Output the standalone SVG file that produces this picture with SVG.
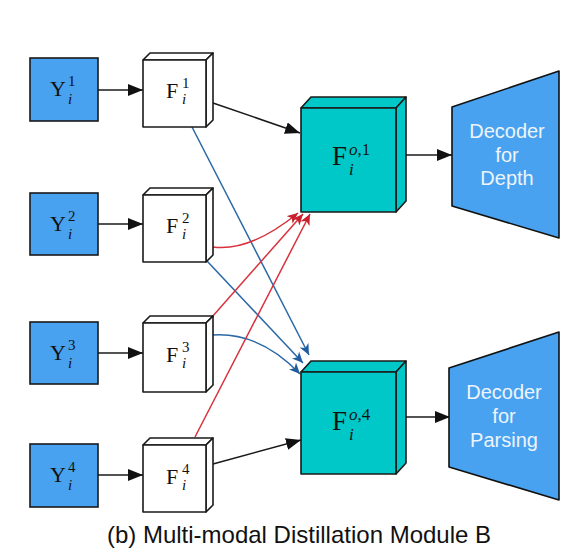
<svg xmlns="http://www.w3.org/2000/svg" width="586" height="559" viewBox="0 0 586 559">
<style>
.y{fill:#48a2ef;stroke:#1a1a1a;stroke-width:1.6}
.fw{fill:#ffffff;stroke:#1a1a1a;stroke-width:1.6;stroke-linejoin:round}
.fo{fill:#00c8c8;stroke:#1a1a1a;stroke-width:1.6;stroke-linejoin:round}
.dec{fill:#48a2ef;stroke:#111;stroke-width:1.6;stroke-linejoin:round}
.m{font-family:"Liberation Serif","DejaVu Serif",serif;fill:#111}
.mi{font-family:"Liberation Serif","DejaVu Serif",serif;font-style:italic;fill:#111}
.dt{font-family:"Liberation Sans",Arial,sans-serif;font-size:20px;fill:#eef4fb;text-anchor:middle}
.k{stroke:#1a1a1a;stroke-width:1.5;fill:none}
.b{stroke:#2a68a6;stroke-width:1.5;fill:none}
.r{stroke:#d8313c;stroke-width:1.5;fill:none}
</style>
<defs>
<marker id="ak" markerUnits="userSpaceOnUse" markerWidth="16" markerHeight="12" refX="15" refY="6" orient="auto"><path d="M0,0 L15,6 L0,12 z" fill="#111"/></marker>
<marker id="ab" markerUnits="userSpaceOnUse" markerWidth="12" markerHeight="10" refX="11" refY="5" orient="auto"><path d="M0,0 L11,5 L0,10 L3,5 z" fill="#1f5e9e"/></marker>
<marker id="ar" markerUnits="userSpaceOnUse" markerWidth="12" markerHeight="10" refX="11" refY="5" orient="auto"><path d="M0,0 L11,5 L0,10 L3,5 z" fill="#c8202c"/></marker>
</defs>

<g id="connectors">
<line class="k" x1="98" y1="90" x2="143" y2="90" marker-end="url(#ak)"/>
<line class="k" x1="98" y1="224" x2="143" y2="224" marker-end="url(#ak)"/>
<line class="k" x1="98" y1="353" x2="143" y2="353" marker-end="url(#ak)"/>
<line class="k" x1="98" y1="475" x2="143" y2="475" marker-end="url(#ak)"/>
<line class="k" x1="213" y1="103" x2="300" y2="133" marker-end="url(#ak)"/>
<line class="k" x1="213" y1="464" x2="301" y2="440" marker-end="url(#ak)"/>
<line class="k" x1="396" y1="155" x2="452" y2="155" marker-end="url(#ak)"/>
<line class="k" x1="396" y1="417" x2="450" y2="417" marker-end="url(#ak)"/>
<line class="b" x1="192" y1="127" x2="309" y2="355" marker-end="url(#ab)"/>
<line class="b" x1="207" y1="261" x2="303" y2="363" marker-end="url(#ab)"/>
<path class="b" d="M213,335 Q260,332 300,374" marker-end="url(#ab)"/>
<path class="r" d="M213,247 Q250,252 298,213" marker-end="url(#ar)"/>
<line class="r" x1="212" y1="317" x2="303" y2="214" marker-end="url(#ar)"/>
<line class="r" x1="195" y1="437" x2="310" y2="214" marker-end="url(#ar)"/>
</g>

<g id="Y1"><rect class="y" x="30" y="58" width="68" height="63"/><text class="m" x="50" y="96" font-size="22">Y</text><text class="m" x="68" y="86" font-size="15">1</text><text class="mi" x="68" y="104" font-size="15">i</text></g>
<g id="Y2"><rect class="y" x="30" y="193" width="68" height="62"/><text class="m" x="50" y="231" font-size="22">Y</text><text class="m" x="68" y="221" font-size="15">2</text><text class="mi" x="68" y="239" font-size="15">i</text></g>
<g id="Y3"><rect class="y" x="30" y="322" width="68" height="62"/><text class="m" x="50" y="360" font-size="22">Y</text><text class="m" x="68" y="350" font-size="15">3</text><text class="mi" x="68" y="368" font-size="15">i</text></g>
<g id="Y4"><rect class="y" x="30" y="444" width="68" height="63"/><text class="m" x="50" y="482" font-size="22">Y</text><text class="m" x="68" y="472" font-size="15">4</text><text class="mi" x="68" y="490" font-size="15">i</text></g>

<g id="F1"><polygon class="fw" points="143,60 150,53 213,53 206,60"/><polygon class="fw" points="206,60 213,53 213,120 206,127"/><rect class="fw" x="143" y="60" width="63" height="67"/><text class="m" x="166" y="98" font-size="22">F</text><text class="m" x="182" y="88" font-size="15">1</text><text class="mi" x="182" y="104" font-size="15">i</text></g>
<g id="F2"><polygon class="fw" points="143,195 150,188 213,188 206,195"/><polygon class="fw" points="206,195 213,188 213,255 206,262"/><rect class="fw" x="143" y="195" width="63" height="67"/><text class="m" x="166" y="233" font-size="22">F</text><text class="m" x="182" y="223" font-size="15">2</text><text class="mi" x="182" y="239" font-size="15">i</text></g>
<g id="F3"><polygon class="fw" points="143,323 150,316 213,316 206,323"/><polygon class="fw" points="206,323 213,316 213,385 206,392"/><rect class="fw" x="143" y="323" width="63" height="69"/><text class="m" x="166" y="362" font-size="22">F</text><text class="m" x="182" y="352" font-size="15">3</text><text class="mi" x="182" y="368" font-size="15">i</text></g>
<g id="F4"><polygon class="fw" points="143,445 150,438 213,438 206,445"/><polygon class="fw" points="206,445 213,438 213,505 206,512"/><rect class="fw" x="143" y="445" width="63" height="67"/><text class="m" x="166" y="484" font-size="22">F</text><text class="m" x="182" y="474" font-size="15">4</text><text class="mi" x="182" y="490" font-size="15">i</text></g>

<g id="Fo1"><polygon class="fo" points="301,108 311,97 406,97 396,108"/><polygon class="fo" points="396,108 406,97 406,201 396,212"/><rect class="fo" x="301" y="108" width="95" height="104"/><text class="m" x="332" y="165" font-size="27">F</text><text font-size="17" x="349" y="155"><tspan class="mi">o</tspan><tspan class="m">,1</tspan></text><text class="mi" x="349" y="175" font-size="17">i</text></g>
<g id="Fo4"><polygon class="fo" points="301,372 311,361 406,361 396,372"/><polygon class="fo" points="396,372 406,361 406,463 396,474"/><rect class="fo" x="301" y="372" width="95" height="102"/><text class="m" x="332" y="430" font-size="27">F</text><text font-size="17" x="349" y="420"><tspan class="mi">o</tspan><tspan class="m">,4</tspan></text><text class="mi" x="349" y="440" font-size="17">i</text></g>

<g id="D1"><polygon class="dec" points="452,107 559,71 559,238 452,206"/><text class="dt" x="507" y="138">Decoder</text><text class="dt" x="507" y="162">for</text><text class="dt" x="507" y="185">Depth</text></g>
<g id="D2"><polygon class="dec" points="449,368 559,332 559,500 449,467"/><text class="dt" x="504" y="399">Decoder</text><text class="dt" x="504" y="423">for</text><text class="dt" x="504" y="447">Parsing</text></g>

<text id="caption" x="299" y="543" font-family="Liberation Sans,Arial,sans-serif" font-size="24" fill="#111" text-anchor="middle">(b) Multi-modal Distillation Module B</text>
</svg>
